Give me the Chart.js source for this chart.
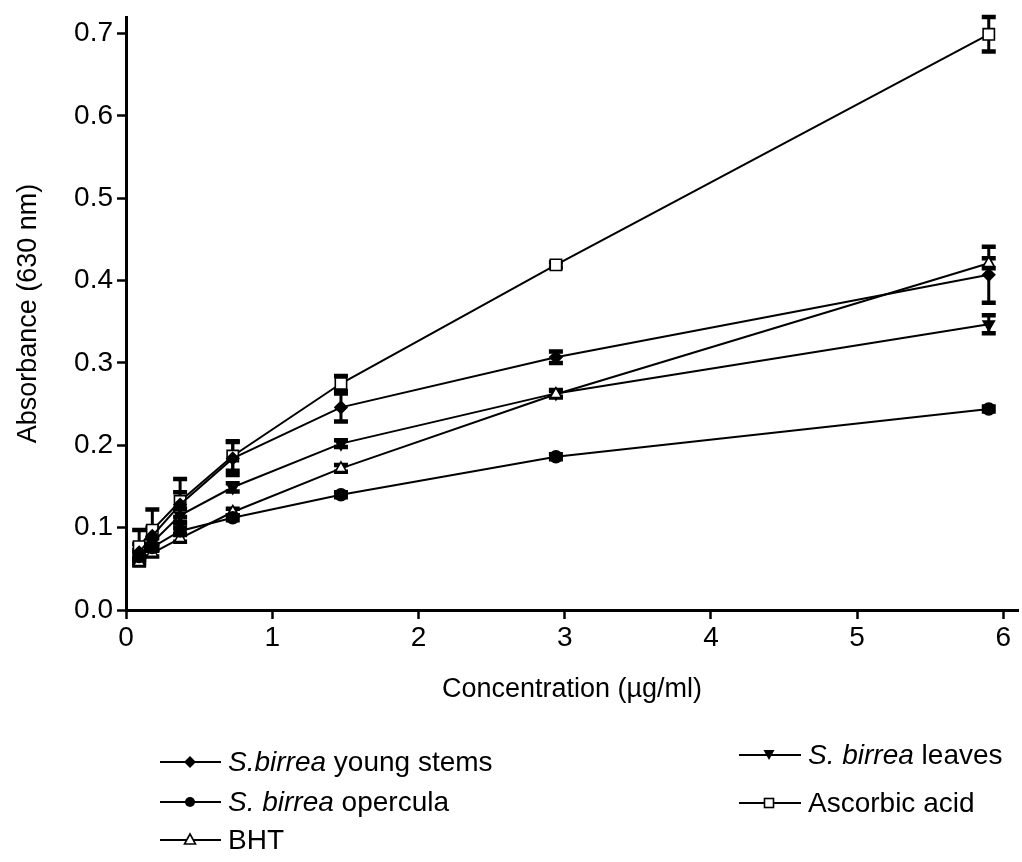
<!DOCTYPE html>
<html>
<head>
<meta charset="utf-8">
<script src="https://cdn.jsdelivr.net/npm/chart.js@4"></script>
<style>
    body { margin: 0; background: #fff; font-family: "Liberation Sans", Arial, sans-serif; }
    #wrap { position: relative; width: 1022px; height: 862px; overflow: hidden; }
    canvas { position: absolute; left: 0; top: 0; }
    .leg { position: absolute; display: flex; align-items: center; height: 32px; font-size: 28px; color: #000; white-space: nowrap; }
    .leg svg { margin-right: 7px; }
</style>
</head>
<body>
<div id="wrap">
    <canvas id="chart" width="1022" height="862"></canvas>
    <div class="leg" style="left:160px; top:746px;">
        <svg width="61" height="20"><line x1="0" y1="10" x2="61" y2="10" stroke="#000" stroke-width="2"/><polygon points="30,4 36,10 30,16 24,10" fill="#000"/></svg>
        <span><i>S.birrea</i> young stems</span>
    </div>
    <div class="leg" style="left:160px; top:786px;">
        <svg width="61" height="20"><line x1="0" y1="10" x2="61" y2="10" stroke="#000" stroke-width="2"/><circle cx="30" cy="10" r="5" fill="#000"/></svg>
        <span><i>S. birrea</i> opercula</span>
    </div>
    <div class="leg" style="left:160px; top:824px;">
        <svg width="61" height="20"><line x1="0" y1="10" x2="61" y2="10" stroke="#000" stroke-width="2"/><polygon points="30,4 35.5,14 24.5,14" fill="#fff" stroke="#000" stroke-width="1.6"/></svg>
        <span>BHT</span>
    </div>
    <div class="leg" style="left:739px; top:739px;">
        <svg width="62" height="20"><line x1="0" y1="10" x2="62" y2="10" stroke="#000" stroke-width="2"/><polygon points="24.5,5 35.5,5 30,15" fill="#000"/></svg>
        <span><i>S. birrea</i> leaves</span>
    </div>
    <div class="leg" style="left:739px; top:787px;">
        <svg width="62" height="20"><line x1="0" y1="10" x2="62" y2="10" stroke="#000" stroke-width="2"/><rect x="25.5" y="5.5" width="9" height="9" fill="#fff" stroke="#000" stroke-width="1.6"/></svg>
        <span>Ascorbic acid</span>
    </div>
</div>

<script>
// ============================================
// DATA
// ============================================
const concentrations = [0.09, 0.18, 0.37, 0.73, 1.47, 2.94, 5.9];

const youngStems = [0.070, 0.090, 0.128, 0.184, 0.246, 0.307, 0.407];
const youngStemsErr = [0.010, 0.010, 0.015, 0.020, 0.017, 0.007, 0.034];

const opercula = [0.065, 0.076, 0.096, 0.112, 0.140, 0.186, 0.244];
const operculaErr = [0.004, 0.003, 0.004, 0.003, 0.003, 0.003, 0.003];

const bht = [0.058, 0.069, 0.087, 0.119, 0.172, 0.262, 0.421];
const bhtErr = [0.004, 0.004, 0.004, 0.004, 0.004, 0.004, 0.006];

const leaves = [0.068, 0.082, 0.115, 0.149, 0.202, 0.263, 0.347];
const leavesErr = [0.005, 0.005, 0.008, 0.005, 0.004, 0.004, 0.011];

const ascorbic = [0.077, 0.097, 0.132, 0.187, 0.275, 0.419, 0.699];
const ascorbicErr = [0.020, 0.025, 0.027, 0.018, 0.009, 0.003, 0.021];

const xTicks = [0, 1, 2, 3, 4, 5, 6];
const yTicks = [0.0, 0.1, 0.2, 0.3, 0.4, 0.5, 0.6, 0.7];

const FONT = '"Liberation Sans", Arial, sans-serif';

function toPoints(ys) {
    return concentrations.map((x, i) => ({ x: x, y: ys[i] }));
}

function makeSet(label, ys, errs, style, fill, radius, rotation) {
    return {
        label: label,
        data: toPoints(ys),
        errors: errs,
        showLine: true,
        borderColor: '#000',
        borderWidth: 2,
        pointStyle: style,
        pointRadius: radius,
        pointRotation: rotation || 0,
        pointBackgroundColor: fill,
        pointBorderColor: '#000',
        pointBorderWidth: 1.6,
        tension: 0,
    };
}

// ============================================
// ERROR BARS
// ============================================
const errorBars = {
    id: 'errorBars',
    beforeDatasetsDraw(chart) {
        const ctx = chart.ctx;
        const xs = chart.scales.x;
        const ys = chart.scales.y;
        ctx.save();
        ctx.strokeStyle = '#000';
        chart.data.datasets.forEach(ds => {
            ds.data.forEach((p, i) => {
                const e = ds.errors[i];
                const px = xs.getPixelForValue(p.x);
                const top = ys.getPixelForValue(p.y + e);
                const bot = ys.getPixelForValue(p.y - e);
                ctx.lineWidth = 3;
                ctx.beginPath();
                ctx.moveTo(px, top);
                ctx.lineTo(px, bot);
                ctx.stroke();
                ctx.lineWidth = 4.5;
                ctx.beginPath();
                ctx.moveTo(px - 7, top);
                ctx.lineTo(px + 7, top);
                ctx.moveTo(px - 7, bot);
                ctx.lineTo(px + 7, bot);
                ctx.stroke();
            });
        });
        ctx.restore();
    }
};

function keepTicks(list) {
    return function (scale) {
        scale.ticks = list.map(v => ({ value: v }));
    };
}

function noEdgePadding(size, isX) {
    return function (scale) {
        if (isX) scale.height = size; else scale.width = size;
        scale.paddingLeft = 0;
        scale.paddingRight = 0;
        scale.paddingTop = 0;
        scale.paddingBottom = 0;
    };
}

// ============================================
// CHART
// ============================================
new Chart(document.getElementById('chart'), {
    type: 'scatter',
    data: {
        datasets: [
            makeSet('S.birrea young stems', youngStems, youngStemsErr, 'rectRot', '#000', 6),
            makeSet('S. birrea opercula', opercula, operculaErr, 'circle', '#000', 6),
            makeSet('BHT', bht, bhtErr, 'triangle', '#fff', 6.5),
            makeSet('S. birrea leaves', leaves, leavesErr, 'triangle', '#000', 6.5, 180),
            makeSet('Ascorbic acid', ascorbic, ascorbicErr, 'rect', '#fff', 8),
        ]
    },
    options: {
        responsive: false,
        animation: false,
        layout: { autoPadding: false, padding: { left: 0, right: 4, top: 17, bottom: 152 } },
        plugins: {
            legend: { display: false },
            tooltip: { enabled: false },
        },
        scales: {
            x: {
                type: 'linear',
                min: 0,
                max: 6.1,
                afterBuildTicks: keepTicks(xTicks),
                afterFit: noEdgePadding(100, true),
                border: { color: '#000', width: 3 },
                grid: { drawOnChartArea: false, drawTicks: true, tickLength: 9, tickColor: '#000', tickWidth: 2.5 },
                ticks: { color: '#000', font: { family: FONT, size: 28 }, padding: 2, maxRotation: 0 },
                title: { display: true, text: 'Concentration (µg/ml)', color: '#000', font: { family: FONT, size: 27 }, padding: { top: 0, bottom: 4 } },
            },
            y: {
                type: 'linear',
                min: 0,
                max: 0.72,
                afterBuildTicks: keepTicks(yTicks),
                afterFit: noEdgePadding(126, false),
                border: { color: '#000', width: 3 },
                grid: { drawOnChartArea: false, drawTicks: true, tickLength: 9, tickColor: '#000', tickWidth: 2.5 },
                ticks: { color: '#000', font: { family: FONT, size: 28 }, padding: 4, callback: v => v.toFixed(1) },
                title: { display: true, text: 'Absorbance (630 nm)', color: '#000', font: { family: FONT, size: 27 }, padding: { top: 12, bottom: 0 } },
            }
        }
    },
    plugins: [errorBars]
});
</script>
</body>
</html>
